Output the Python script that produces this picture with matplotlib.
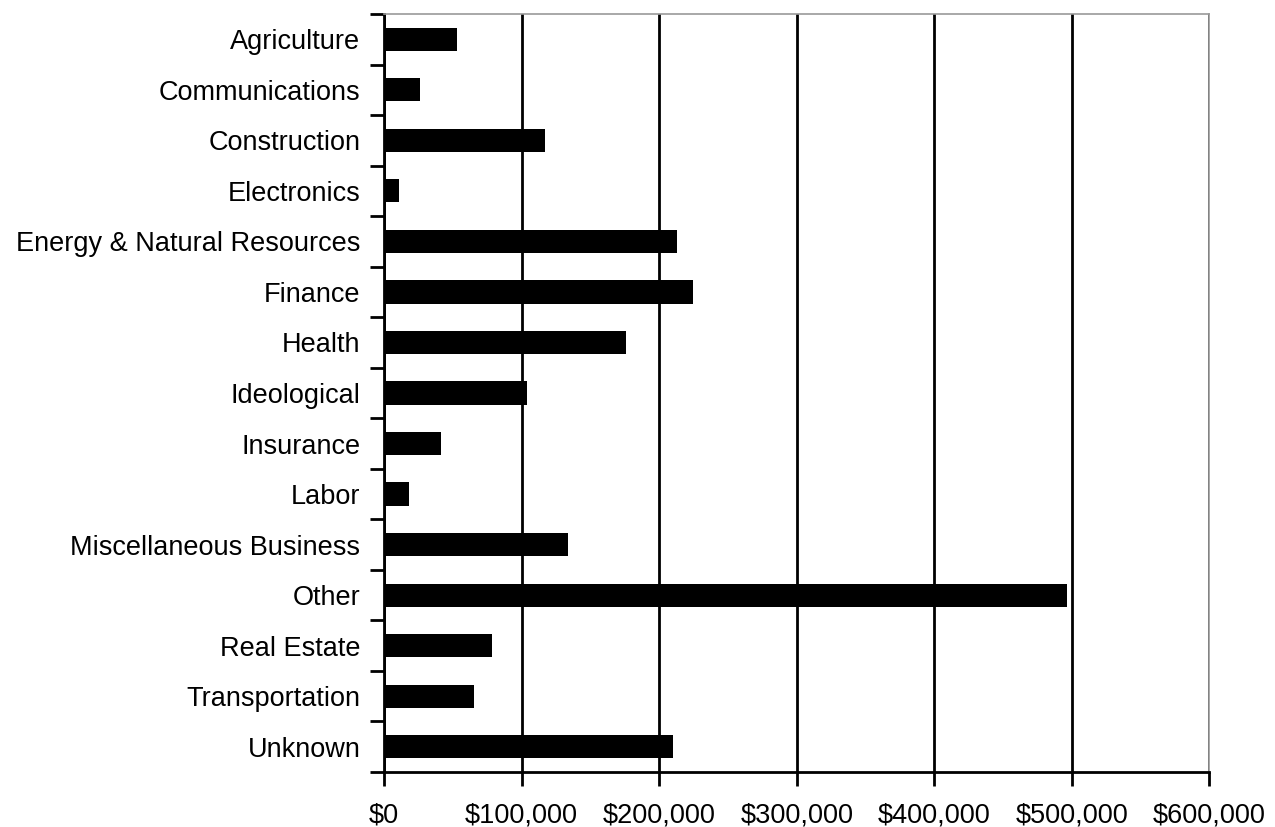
import matplotlib.pyplot as plt
import numpy as np
from matplotlib.ticker import FuncFormatter, FixedLocator

# 업종별 금액
categories = ['Agriculture', 'Communications', 'Construction', 'Electronics',
              'Energy & Natural Resources', 'Finance', 'Health', 'Ideological',
              'Insurance', 'Labor', 'Miscellaneous Business', 'Other',
              'Real Estate', 'Transportation', 'Unknown']
amounts = [53300, 26400, 117200, 11100, 213200, 224800, 176100, 103700,
           41400, 17900, 134000, 496100, 78500, 65200, 209800]
x_ticks = [0, 100000, 200000, 300000, 400000, 500000, 600000]

plt.rcParams['font.family'] = ['Liberation Sans', 'DejaVu Sans']

fig = plt.figure(figsize=(12.75, 8.27), dpi=100)
ax = fig.add_axes([0.3012, 0.0665, 0.6474, 0.9166])

y = np.arange(len(categories))
ax.barh(y, amounts, height=0.46, color='black', zorder=3)

ax.set_xlim(0, 600000)
ax.set_ylim(len(categories) - 0.5, -0.5)
ax.set_xticks(x_ticks)
ax.xaxis.set_major_formatter(FuncFormatter(lambda v, p: '${:,.0f}'.format(v)))
ax.grid(axis='x', color='black', linewidth=2, zorder=1)

# 카테고리 라벨은 가운데, 눈금은 경계에
ax.set_yticks(y)
ax.set_yticklabels(categories, fontsize=19.5)
ax.yaxis.set_minor_locator(FixedLocator(np.arange(-0.5, len(categories), 1)))
ax.tick_params(axis='y', which='major', length=0, pad=17)
ax.tick_params(axis='y', which='minor', length=10, width=2, color='black')
ax.tick_params(axis='x', length=10, width=2, labelsize=19.5, pad=12, direction='out')

for s in ['left', 'bottom']:
    ax.spines[s].set_linewidth(2)
    ax.spines[s].set_color('black')
for s in ['top', 'right']:
    ax.spines[s].set_linewidth(1.2)
    ax.spines[s].set_color('#999999')

fig.savefig('out.png', dpi=100, facecolor='white')
